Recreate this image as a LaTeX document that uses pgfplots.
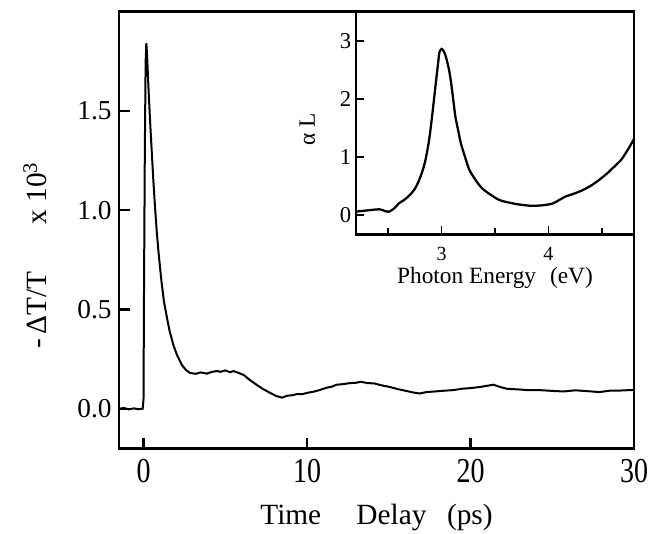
\documentclass[border=0pt]{standalone}
\usepackage{fontspec}
\setmainfont{Liberation Serif}
\usepackage{graphicx}
\usepackage{pgfplots}
\pgfplotsset{compat=1.18}
\begin{document}
\begin{tikzpicture}
\begin{axis}[name=main, at={(0pt,0pt)}, anchor=south west,
  scale only axis, width=386.25pt, height=327.75pt,
  xmin=-1.5, xmax=30, ymin=-0.2, ymax=2.0,
  xtick={0,10,20,30}, ytick={0,0.5,1,1.5},
  tick pos=left, tick align=inside, major tick length=8pt,
  axis line style={line width=2pt},
  major tick style={line width=1.6pt, black},
  /pgf/number format/assume math mode=true,
  yticklabel style={font=\fontsize{20.5}{22}\selectfont, xshift=-2pt, /pgf/number format/fixed, /pgf/number format/fixed zerofill, /pgf/number format/precision=1},
  xticklabel={\scalebox{1}[1.25]{\pgfmathprintnumber{\tick}}},
  xticklabel style={font=\fontsize{21}{23}\selectfont, anchor=base, yshift=-25.5pt},
  xlabel={Time\hspace{1.2em}Delay\hspace{0.7em}(ps)},
  xlabel style={font=\fontsize{22}{24}\selectfont, at={(axis description cs:0.5,0)}, anchor=base, yshift=-57pt},
  ylabel={-\,ΔT/T\hspace{1.6em}x 10\textsuperscript{3}},
  ylabel style={font=\fontsize{22}{24}\selectfont, at={(axis description cs:-0.1398,0.4417)}, anchor=base},
  clip=true]
\addplot[black, line width=1.5pt] coordinates {
(-1.5,0.000) (-1.2,0.004) (-0.9,-0.003) (-0.6,0.002) (-0.3,-0.002) (-0.05,0.000)
(0.00,0.05) (0.03,0.60) (0.08,1.30) (0.13,1.75) (0.17,1.84) (0.22,1.78)
(0.30,1.62) (0.40,1.45) (0.50,1.30) (0.60,1.15) (0.70,1.02) (0.82,0.88)
(0.95,0.76) (1.10,0.64) (1.25,0.54) (1.43,0.46) (1.60,0.39) (1.83,0.32)
(2.05,0.27) (2.35,0.22) (2.60,0.195) (2.85,0.180) (3.20,0.176) (3.50,0.183)
(3.87,0.177) (4.20,0.186) (4.50,0.190) (4.70,0.186) (5.00,0.193) (5.30,0.184)
(5.50,0.190) (5.80,0.181) (6.13,0.170) (6.50,0.145) (6.93,0.120) (7.30,0.100)
(7.74,0.080) (8.10,0.065) (8.46,0.056) (8.80,0.066) (9.10,0.068) (9.38,0.074)
(9.70,0.073) (10.0,0.080) (10.4,0.086) (10.8,0.095) (11.2,0.106) (11.5,0.111)
(11.8,0.121) (12.2,0.124) (12.6,0.129) (13.0,0.131) (13.3,0.136) (13.7,0.129)
(14.1,0.128) (14.5,0.119) (15.0,0.111) (15.5,0.100) (16.0,0.091) (16.5,0.082)
(16.9,0.077) (17.3,0.084) (17.8,0.087) (18.4,0.091) (18.95,0.094) (19.5,0.101)
(20.0,0.104) (20.6,0.110) (21.1,0.117) (21.4,0.121) (21.8,0.110) (22.2,0.101)
(22.8,0.098) (23.5,0.094) (24.2,0.094) (25.0,0.090) (25.7,0.087) (26.4,0.093)
(27.1,0.089) (27.9,0.084) (28.5,0.091) (29.2,0.092) (30.0,0.095)
};
\end{axis}
\begin{axis}[name=inset, at={(177.75pt,160.65pt)}, anchor=south west,
  scale only axis, width=208.5pt, height=166.95pt,
  axis background/.style={fill=white},
  xmin=2.2, xmax=4.8, ymin=-0.33, ymax=3.5,
  xtick={3,4}, ytick={0,1,2,3}, minor xtick={2.5,3.5,4.5},
  tick pos=left, tick align=inside, major tick length=6pt, minor tick length=5pt,
  axis line style={line width=1.8pt},
  major tick style={line width=1.4pt, black},
  minor tick style={line width=1.4pt, black},
  /pgf/number format/assume math mode=true,
  yticklabel style={font=\fontsize{17}{19}\selectfont},
  xticklabel style={font=\fontsize{15}{17}\selectfont, anchor=base, yshift=-19.5pt},
  xlabel={Photon Energy\hspace{0.6em}(eV)},
  xlabel style={font=\fontsize{17.5}{19}\selectfont, at={(axis description cs:0.5,0)}, anchor=base, yshift=-36.75pt},
  ylabel={α L},
  ylabel style={font=\fontsize{17.5}{19}\selectfont, at={(axis description cs:-0.1475,0.47)}, anchor=base}]
\addplot[black, line width=1.7pt, smooth] coordinates {
(2.20,0.06) (2.30,0.08) (2.42,0.10) (2.47,0.07) (2.51,0.06) (2.56,0.12)
(2.60,0.20) (2.65,0.26) (2.70,0.34) (2.75,0.45) (2.79,0.60) (2.82,0.75)
(2.85,0.95) (2.88,1.25) (2.90,1.52) (2.93,2.00) (2.95,2.33) (2.97,2.65)
(2.98,2.80) (3.00,2.86) (3.02,2.82) (3.04,2.73) (3.07,2.50) (3.09,2.27)
(3.11,1.98) (3.13,1.69) (3.16,1.42) (3.18,1.24) (3.22,1.00) (3.26,0.78)
(3.32,0.60) (3.38,0.46) (3.46,0.35) (3.54,0.26) (3.62,0.22) (3.70,0.19)
(3.78,0.17) (3.85,0.16) (3.95,0.17) (4.04,0.20) (4.10,0.26) (4.16,0.32)
(4.24,0.37) (4.32,0.43) (4.40,0.51) (4.47,0.60) (4.55,0.72) (4.63,0.86)
(4.68,0.95) (4.72,1.06) (4.76,1.18) (4.80,1.31)
};
\end{axis}
\pgfresetboundingbox
\path[use as bounding box] (-89.25pt,-63.375pt) rectangle (399pt,336.375pt);
\end{tikzpicture}
\end{document}
